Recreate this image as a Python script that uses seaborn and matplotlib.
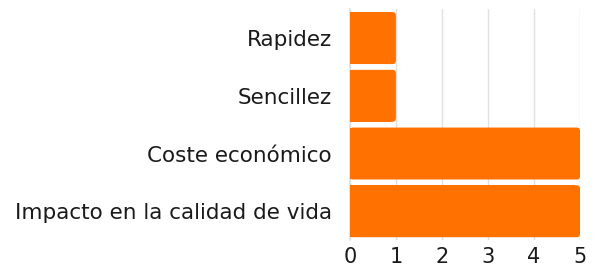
import matplotlib
matplotlib.use("Agg")
import matplotlib.pyplot as plt
from matplotlib.patches import FancyBboxPatch, Rectangle
import seaborn as sns
import pandas as pd

# datos del gráfico
categorias = ["Rapidez", "Sencillez", "Coste económico", "Impacto en la calidad de vida"]
valores = [1, 1, 5, 5]
ticks_x = [0, 1, 2, 3, 4, 5]

naranja = "#FF7100"

sns.set_theme(style="white")
plt.rcParams['font.family'] = ['DejaVu Sans']

df = pd.DataFrame({"categoria": categorias, "valor": valores})

fig = plt.figure(figsize=(5.95, 2.71), dpi=100)
ax = fig.add_axes([0.588, 0.114, 0.387, 0.852])

sns.barplot(data=df, x="valor", y="categoria", color=naranja, width=0.9,
            saturation=1, ax=ax, zorder=3)

# esquinas redondeadas a la derecha
for p in list(ax.patches):
    x0, y0 = p.get_x(), p.get_y()
    w, h = p.get_width(), p.get_height()
    p.remove()
    r = 0.07
    ax.add_patch(FancyBboxPatch((x0, y0), w, h,
                                boxstyle=f"round,pad=0,rounding_size={r}",
                                facecolor=naranja, edgecolor="none", zorder=3))
    ax.add_patch(Rectangle((x0, y0), w - r * 1.5, h, facecolor=naranja,
                           edgecolor="none", zorder=3))

ax.set_xlim(0, 5)
ax.set_ylim(3.5, -0.5)
ax.set_xticks(ticks_x)
ax.set_xticklabels([str(t) for t in ticks_x])
ax.grid(axis="x", color="#e0e0e0", linewidth=1, zorder=0)
ax.set_xlabel("")
ax.set_ylabel("")
for s in ["top", "right", "bottom"]:
    ax.spines[s].set_visible(False)
ax.spines["left"].set_color("#e0e0e0")
ax.tick_params(axis="both", length=0, colors="#1a1a1a")
ax.tick_params(axis="y", labelsize=15.5, pad=13)
ax.tick_params(axis="x", labelsize=15, pad=5)

fig.savefig("out.png", dpi=100)
